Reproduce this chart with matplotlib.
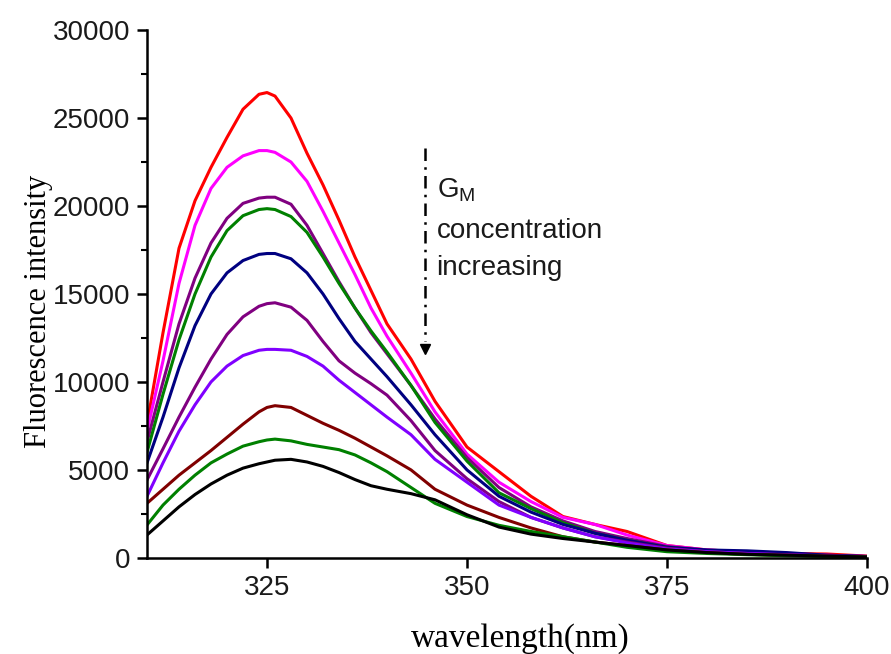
import matplotlib
matplotlib.use("Agg")
import matplotlib.pyplot as plt

# ---- data ----
wavelength = [310, 312, 314, 316, 318, 320, 322, 324, 325, 326, 328, 330, 332, 334, 336, 338,
              340, 343, 346, 350, 354, 358, 362, 366, 370, 375, 380, 385, 390, 395, 400]

red = [7600, 12800, 17600, 20300, 22200, 23900, 25500, 26350, 26450, 26250, 25000, 23000, 21200, 19200, 17100, 15200,
       13300, 11300, 8900, 6300, 4900, 3500, 2350, 1900, 1500, 700, 450, 330, 250, 220, 100]
magenta = [7200, 11200, 15600, 18900, 21000, 22200, 22850, 23150, 23150, 23050, 22500, 21400, 19700, 17900, 16100, 14200,
           12600, 10500, 8300, 5900, 4300, 3200, 2300, 1900, 1300, 700, 450, 330, 250, 150, 80]
purple1 = [6600, 10000, 13300, 15900, 17900, 19300, 20150, 20450, 20500, 20500, 20100, 18900, 17300, 15700, 14200, 12800,
           11600, 9800, 7900, 5700, 4000, 2900, 2100, 1500, 1100, 650, 420, 300, 220, 150, 80]
green1 = [6000, 9300, 12400, 15000, 17100, 18600, 19450, 19800, 19850, 19800, 19400, 18500, 17100, 15600, 14200, 12900,
          11700, 9800, 7700, 5500, 3700, 2800, 2000, 1400, 1000, 600, 400, 300, 200, 120, 60]
navy = [5400, 8000, 10800, 13200, 15000, 16200, 16900, 17250, 17300, 17300, 17000, 16200, 15000, 13600, 12300, 11300,
        10300, 8700, 7000, 5000, 3500, 2600, 1900, 1400, 1000, 600, 450, 400, 300, 150, 80]
purple2 = [4430, 6200, 8000, 9700, 11300, 12700, 13700, 14300, 14450, 14500, 14250, 13500, 12300, 11200, 10500, 9900,
           9250, 7800, 6100, 4500, 3200, 2300, 1700, 1200, 900, 550, 350, 250, 180, 120, 60]
violet = [3500, 5400, 7200, 8700, 10000, 10900, 11500, 11800, 11850, 11850, 11800, 11450, 10900, 10100, 9400, 8700,
          8000, 7000, 5600, 4300, 3000, 2300, 1700, 1200, 850, 500, 350, 250, 170, 100, 50]
maroon = [3100, 3900, 4700, 5400, 6100, 6850, 7600, 8300, 8550, 8650, 8550, 8100, 7650, 7250, 6800, 6300,
          5800, 5000, 3900, 3000, 2300, 1700, 1200, 900, 700, 450, 300, 200, 150, 100, 50]
green2 = [1870, 3000, 3900, 4700, 5400, 5900, 6350, 6600, 6700, 6750, 6650, 6450, 6300, 6150, 5850, 5400,
          4900, 4000, 3100, 2350, 1850, 1500, 1200, 900, 600, 350, 250, 180, 120, 80, 40]
black = [1300, 2100, 2900, 3600, 4200, 4700, 5100, 5350, 5450, 5550, 5600, 5450, 5200, 4850, 4450, 4100,
         3900, 3650, 3300, 2450, 1750, 1350, 1100, 900, 700, 450, 300, 200, 150, 100, 50]

series = [red, magenta, purple1, green1, navy, purple2, violet, maroon, green2, black]
colors = ["#ff0000", "#ff00ff", "#800080", "#008000", "#000080",
          "#800080", "#8000ff", "#800000", "#008000", "#000000"]

x_ticks = [325, 350, 375, 400]
y_ticks = [0, 5000, 10000, 15000, 20000, 25000, 30000]

# ---- figure ----
fig = plt.figure(figsize=(8.91, 6.54), dpi=100)
ax = fig.add_axes([0.165, 0.147, 0.808, 0.807])

for s, c in zip(series, colors):
    ax.plot(wavelength, s, color=c, lw=2.2, solid_joinstyle="round")

ax.set_xlim(310, 400)
ax.set_ylim(0, 30000)
ax.set_xticks(x_ticks)
ax.set_yticks(y_ticks)
ax.set_yticks(range(2500, 30000, 5000), minor=True)

for side in ["top", "right"]:
    ax.spines[side].set_visible(False)
for side in ["left", "bottom"]:
    ax.spines[side].set_linewidth(1.8)

ax.tick_params(which="major", direction="out", length=7, width=1.8, pad=5,
               labelsize=20)
ax.tick_params(which="minor", direction="out", length=4.5, width=1.5)
for lab in ax.get_xticklabels() + ax.get_yticklabels():
    lab.set_fontfamily("Liberation Sans")
    lab.set_color("#1a1a1a")

fig.text(0.043, 0.524, "Fluorescence intensity", rotation=90, ha="center", va="center",
         fontsize=22, family="Liberation Serif")
fig.text(0.584, 0.024, "wavelength(nm)", ha="center", va="center",
         fontsize=24, family="Liberation Serif")

# ---- arrow annotation ----
ax.plot([344.75, 344.75], [23300, 12300], color="black", lw=1.8,
        linestyle=(0, (5, 2.5, 1, 2.5)))
ax.plot([344.75], [11900], marker="v", color="black", markersize=7)

ax.text(346.2, 20900, r"G$_\mathregular{M}$", fontsize=20, family="Liberation Sans",
        va="center", ha="left", color="#1a1a1a")
ax.text(346.2, 18600, "concentration", fontsize=20, family="Liberation Sans",
        va="center", ha="left", color="#1a1a1a")
ax.text(346.2, 16450, "increasing", fontsize=20, family="Liberation Sans",
        va="center", ha="left", color="#1a1a1a")

fig.savefig("out.png", dpi=100)
